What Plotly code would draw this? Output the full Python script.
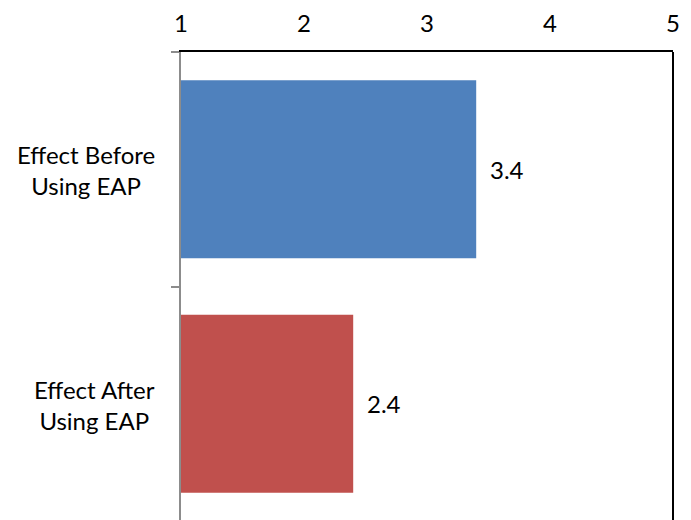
import plotly.graph_objects as go

# Survey scores, bottom-to-top order on the category axis
categories = ["after", "before"]
category_labels = ["Effect After<br>Using EAP", "Effect Before<br>Using EAP"]
scores = [2.4, 3.4]
bar_colors = ["#C0504D", "#4F81BD"]
x_ticks = [1, 2, 3, 4, 5]

FONT = "Lato"
FS = 24

fig = go.Figure()
fig.add_trace(go.Bar(
    y=categories,
    x=scores,
    orientation="h",
    marker=dict(color=bar_colors, line=dict(width=0)),
    width=0.76,
    hoverinfo="skip",
))

annotations = []
for cat, lab in zip(categories, category_labels):
    annotations.append(dict(
        x=0, xref="paper", y=cat, yref="y",
        text=lab, showarrow=False, xanchor="right", align="center",
        xshift=-24, yshift=-1, font=dict(family=FONT, size=FS, color="black"),
    ))
for cat, v in zip(categories, scores):
    annotations.append(dict(
        x=v, xref="x", y=cat, yref="y",
        text=f"{v:.1f}", showarrow=False, xanchor="left",
        xshift=12, font=dict(family=FONT, size=FS, color="black"),
    ))

fig.update_layout(
    width=691, height=520,
    margin=dict(l=181, r=18, t=52, b=0),
    paper_bgcolor="white", plot_bgcolor="white",
    showlegend=False,
    font=dict(family=FONT, size=FS, color="black"),
    annotations=annotations,
    shapes=[dict(type="line", xref="paper", yref="paper",
                 x0=1, x1=1, y0=0, y1=1,
                 line=dict(color="black", width=2))],
    xaxis=dict(
        range=[1, 5], side="top", tickvals=x_ticks,
        showgrid=False, zeroline=False, ticks="",
        showline=True, linecolor="black", linewidth=2,
        ticklabelstandoff=8,
        tickfont=dict(family=FONT, size=FS, color="black"),
    ),
    yaxis=dict(
        type="category", categoryorder="array", categoryarray=categories,
        range=[-0.4957, 1.5],
        showgrid=False, zeroline=False,
        showline=True, linecolor="#8c8c8c", linewidth=2,
        ticks="outside", tickson="boundaries", ticklen=8,
        tickcolor="#8c8c8c", tickwidth=2,
        showticklabels=False,
    ),
)

fig.write_html("out.html")
